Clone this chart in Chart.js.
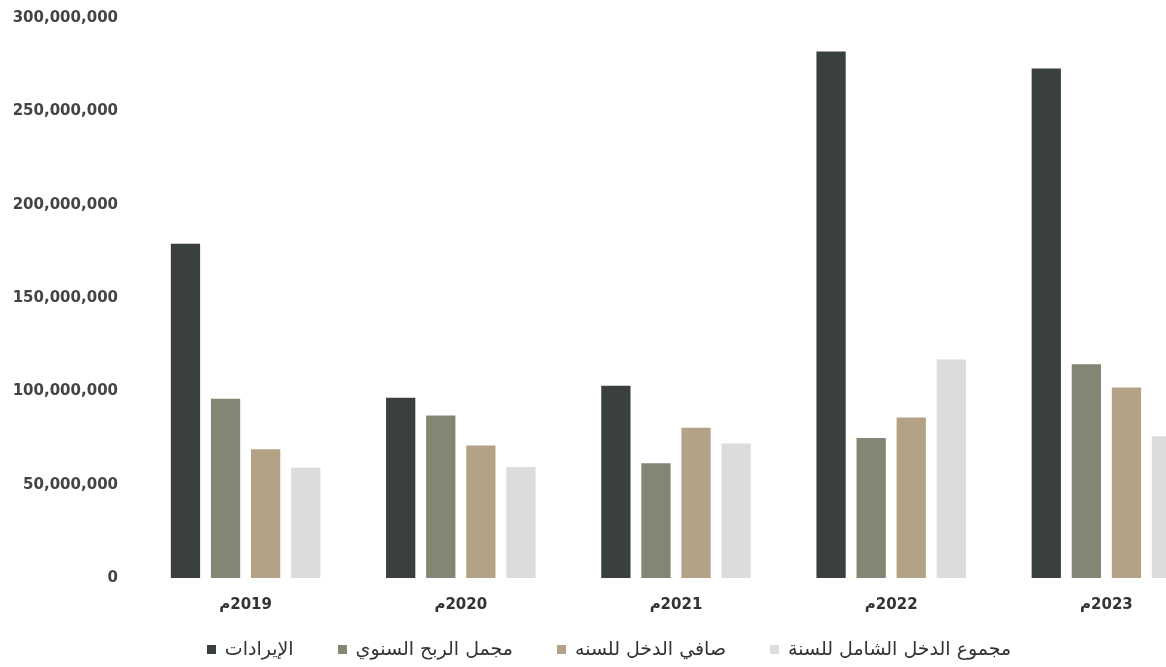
<!DOCTYPE html>
<html lang="ar">
<head>
<meta charset="utf-8">
<script src="https://cdn.jsdelivr.net/npm/chart.js@4/dist/chart.umd.min.js"></script>
<style>
  html, body { margin: 0; padding: 0; background: #fff; overflow: hidden; }
  #wrap { position: relative; width: 1230px; height: 667px; }
  #legend {
    position: absolute; left: 0; top: 637px; width: 1218px;
    display: flex; justify-content: center; align-items: center; gap: 44px;
    font: 19px 'DejaVu Sans', sans-serif; color: #333; line-height: 22px;
  }
  #legend .box { display: inline-block; width: 9px; height: 9px; margin-right: 9px; vertical-align: middle; }
</style>
</head>
<body>
<div id="wrap">
  <canvas id="finChart"></canvas>
  <div id="legend"></div>
</div>
<script>
// السنوات
const years = ['2019م', '2020م', '2021م', '2022م', '2023م'];

// القيم بالريال (مقروءة من الرسم)
const revenue      = [179000000, 96500000, 103000000, 282000000, 273000000];
const grossProfit  = [96000000, 87000000, 61500000, 75000000, 114500000];
const netIncome    = [69000000, 71000000, 80500000, 86000000, 102000000];
const totalIncome  = [59000000, 59500000, 72000000, 117000000, 76000000];

const seriesNames  = ['الإيرادات', 'مجمل الربح السنوي', 'صافي الدخل للسنه', 'مجموع الدخل الشامل للسنة'];
const seriesColors = ['#3a403e', '#848572', '#b3a286', '#dcdcdc'];

const yTicks = [0, 50000000, 100000000, 150000000, 200000000, 250000000, 300000000];

const ctx = document.getElementById('finChart').getContext('2d');

const seriesData = [revenue, grossProfit, netIncome, totalIncome];

const finChart = new Chart(ctx, {
    type: 'bar',
    data: {
        labels: years,
        datasets: seriesData.map((d, i) => ({
            label: seriesNames[i],
            data: d,
            backgroundColor: seriesColors[i],
            borderWidth: 0,
            categoryPercentage: 0.745,
            barPercentage: 0.73
        }))
    },
    options: {
        responsive: true,
        maintainAspectRatio: false,
        animation: false,
        layout: { padding: { top: 18, left: 8, right: 16, bottom: 49 } },
        plugins: {
            tooltip: { enabled: false },
            legend: { display: false }
        },
        scales: {
            x: {
                afterFit: (s) => { s.height = 40; },
                grid: { display: false, drawTicks: false },
                border: { display: false },
                ticks: {
                    padding: 18,
                    color: '#333',
                    font: { family: 'DejaVu Sans', size: 15, weight: 'bold' },
                    // علامة RLM حتى تظهر "م" يسار الرقم كما في الأصل
                    callback: function (v) { return '\u200F' + this.getLabelForValue(v); }
                }
            },
            y: {
                min: 0,
                max: 300000000,
                afterBuildTicks: (s) => { s.ticks = yTicks.map(v => ({ value: v })); },
                afterFit: (s) => { s.width = 130; s.paddingTop = 0; s.paddingBottom = 0; },
                grid: { display: false, drawTicks: false },
                border: { display: false },
                ticks: {
                    padding: 20,
                    color: '#444',
                    font: { family: 'DejaVu Sans', size: 15, weight: 'bold' },
                    callback: (v) => v.toLocaleString('en-US')
                }
            }
        }
    }
});

// وسيلة الإيضاح من أسماء وألوان السلاسل
const legendEl = document.getElementById('legend');
finChart.data.datasets.forEach((ds) => {
    const item = document.createElement('span');
    const box = document.createElement('span');
    box.className = 'box';
    box.style.background = ds.backgroundColor;
    item.appendChild(box);
    item.appendChild(document.createTextNode(ds.label));
    legendEl.appendChild(item);
});
</script>
</body>
</html>
